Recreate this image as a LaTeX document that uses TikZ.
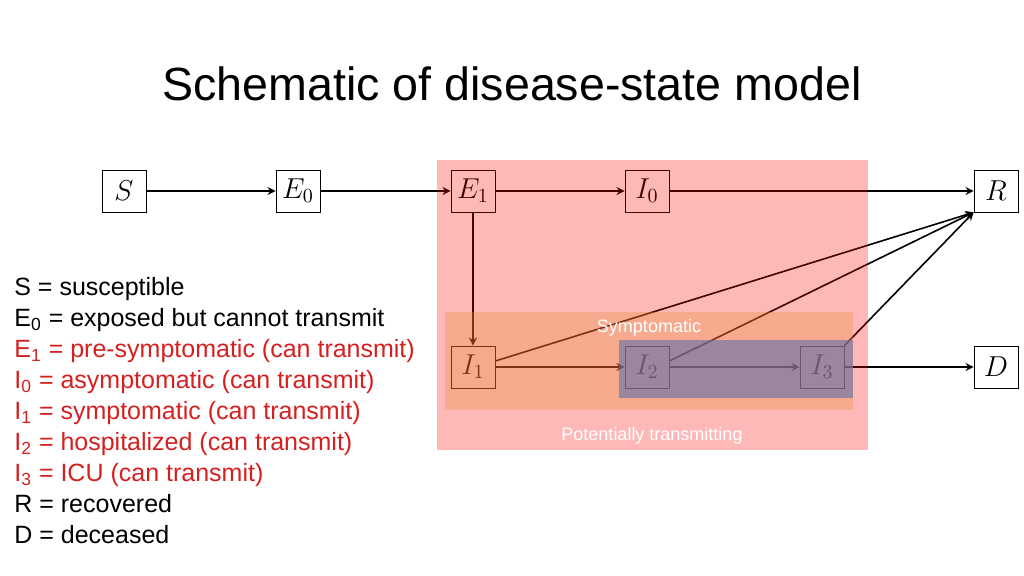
\documentclass[tikz,border=0pt]{standalone}
\usepackage{fontspec}
\setmainfont{Liberation Sans}
\usetikzlibrary{positioning}
\definecolor{legendred}{RGB}{212,32,32}
\definecolor{symporange}{RGB}{234,143,66}
\definecolor{hosppurple}{RGB}{92,112,167}
\tikzset{
  state/.style={draw,fill=white,minimum width=22pt,minimum height=21pt,inner sep=1pt,font=\fontsize{14}{14}\selectfont},
  flow/.style={->,>=stealth,thick}
}
\begin{document}
\begin{tikzpicture}[x=0.5pt,y=-0.5pt]
  \useasboundingbox (0,0) rectangle (1024,576);
  \node at (512,84) {\fontsize{23.3}{24}\selectfont Schematic of disease-state model};
  % states
  \node[state] (S) at (124,191) {$S$};
  \node[state] (E0) at (298,191) {$E_0$};
  \node[state] (E1) at (473,191) {$E_1$};
  \node[state] (I0) at (647,191) {$I_0$};
  \node[state] (R) at (996,191) {$R$};
  \node[state] (I1) at (473,367) {$I_1$};
  \node[state] (I2) at (647,367) {$I_2$};
  \node[state] (I3) at (822,367) {$I_3$};
  \node[state] (D) at (996,367) {$D$};
  % transitions
  \draw[flow] (S) -- (E0);
  \draw[flow] (E0) -- (E1);
  \draw[flow] (E1) -- (I0);
  \draw[flow] (I0) -- (R);
  \draw[flow] (E1) -- (I1);
  \draw[flow] (I1) -- (I2);
  \draw[flow] (I2) -- (I3);
  \draw[flow] (I3) -- (D);
  \draw[flow] (I1.east) ++(0,-6) -- (R.south west);
  \draw[flow] (I2.east) ++(0,-6) -- (R.south west);
  \draw[flow] (I3.north east) -- (R.south west);
  % regions
  \fill[red,fill opacity=0.28] (437,160) rectangle (868,450);
  \fill[symporange,fill opacity=0.35] (445,312) rectangle (853,410);
  \fill[hosppurple,fill opacity=0.6] (619,340) rectangle (853,398);
  \node[white,font=\fontsize{9}{9}\selectfont] (symp) at (649,328) {Symptomatic};
  \node[white,font=\fontsize{9}{9}\selectfont] (trans) at (652,436) {Potentially transmitting};
  % legend
  \node[anchor=north west,align=left,inner sep=0pt,font=\fontsize{12.5}{15.5}\selectfont] (legend) at (14,277) {%
    S = susceptible\\
    E\textsubscript{0} = exposed but cannot transmit\\
    \textcolor{legendred}{E\textsubscript{1} = pre-symptomatic (can transmit)}\\
    \textcolor{legendred}{I\textsubscript{0} = asymptomatic (can transmit)}\\
    \textcolor{legendred}{I\textsubscript{1} = symptomatic (can transmit)}\\
    \textcolor{legendred}{I\textsubscript{2} = hospitalized (can transmit)}\\
    \textcolor{legendred}{I\textsubscript{3} = ICU (can transmit)}\\
    R = recovered\\
    D = deceased};
\end{tikzpicture}
\end{document}
